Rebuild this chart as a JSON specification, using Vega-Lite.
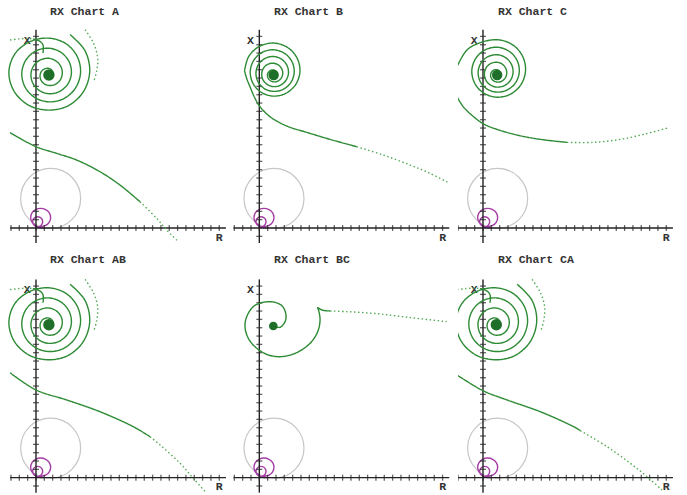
{
"$schema": "https://vega.github.io/schema/vega-lite/v6.json",
"padding": 0,
"background": "white",
"spacing": 0,
"config": {
  "view": {"stroke": null},
  "title": {"font": "Liberation Mono", "fontSize": 11.5, "fontWeight": "bold", "color": "#333333", "anchor": "start", "offset": -17, "baseline": "alphabetic"}
},
"datasets": {
  "ticks": [
    {"axis":"R","x":-3,"y":0},{"axis":"R","x":-2,"y":0},{"axis":"R","x":-1,"y":0},{"axis":"R","x":0,"y":0},{"axis":"R","x":1,"y":0},{"axis":"R","x":2,"y":0},{"axis":"R","x":3,"y":0},{"axis":"R","x":4,"y":0},{"axis":"R","x":5,"y":0},{"axis":"R","x":6,"y":0},{"axis":"R","x":7,"y":0},{"axis":"R","x":8,"y":0},{"axis":"R","x":9,"y":0},{"axis":"R","x":10,"y":0},{"axis":"R","x":11,"y":0},{"axis":"R","x":12,"y":0},{"axis":"R","x":13,"y":0},{"axis":"R","x":14,"y":0},{"axis":"R","x":15,"y":0},{"axis":"R","x":16,"y":0},{"axis":"R","x":17,"y":0},{"axis":"R","x":18,"y":0},{"axis":"R","x":19,"y":0},{"axis":"R","x":20,"y":0},{"axis":"R","x":21,"y":0},{"axis":"R","x":22,"y":0},
    {"axis":"X","x":0,"y":-1},{"axis":"X","x":0,"y":1},{"axis":"X","x":0,"y":2},{"axis":"X","x":0,"y":3},{"axis":"X","x":0,"y":4},{"axis":"X","x":0,"y":5},{"axis":"X","x":0,"y":6},{"axis":"X","x":0,"y":7},{"axis":"X","x":0,"y":8},{"axis":"X","x":0,"y":9},{"axis":"X","x":0,"y":10},{"axis":"X","x":0,"y":11},{"axis":"X","x":0,"y":12},{"axis":"X","x":0,"y":13},{"axis":"X","x":0,"y":14},{"axis":"X","x":0,"y":15},{"axis":"X","x":0,"y":16},{"axis":"X","x":0,"y":17},{"axis":"X","x":0,"y":18},{"axis":"X","x":0,"y":19},{"axis":"X","x":0,"y":20},{"axis":"X","x":0,"y":21},{"axis":"X","x":0,"y":22},{"axis":"X","x":0,"y":23}
  ],
  "axes": [{"x":-3.1,"y":0,"x2":22.8,"y2":0},{"x":0,"y":-1.8,"x2":0,"y2":23.8}],
  "labels": [{"t":"X","x":-1.05,"y":22.5},{"t":"R","x":22.0,"y":-1.15}],
  "ref": [{"x":1.76,"y":3.55}],
  "magenta": [
    {"i":0,"x":0.0,"y":0.02},{"i":1,"x":0.3,"y":0.08},{"i":2,"x":0.56,"y":0.16},{"i":3,"x":1.16,"y":0.31},{"i":4,"x":1.6,"y":0.71},{"i":5,"x":1.76,"y":1.26},{"i":6,"x":1.6,"y":1.81},{"i":7,"x":1.16,"y":2.21},{"i":8,"x":0.56,"y":2.36},{"i":9,"x":-0.04,"y":2.21},{"i":10,"x":-0.48,"y":1.81},{"i":11,"x":-0.64,"y":1.26},{"i":12,"x":-0.48,"y":0.71},{"i":13,"x":-0.04,"y":0.31},
    {"i":14,"x":0.2,"y":0.16},{"i":15,"x":0.5,"y":0.24},{"i":16,"x":0.72,"y":0.46},{"i":17,"x":0.8,"y":0.76},{"i":18,"x":0.72,"y":1.06},{"i":19,"x":0.5,"y":1.28},{"i":20,"x":0.2,"y":1.36},{"i":21,"x":-0.1,"y":1.28},{"i":22,"x":-0.32,"y":1.06},{"i":23,"x":-0.4,"y":0.76},{"i":24,"x":-0.32,"y":0.46},{"i":25,"x":-0.1,"y":0.24},{"i":26,"x":0.25,"y":0.08},{"i":27,"x":0.7,"y":0.02},{"i":28,"x":1.1,"y":0.0}
  ],
  "spiralA": [
    {"part":"spiral","sampling":"dense","i":0,"x":4.09,"y":23.22},{"part":"spiral","sampling":"dense","i":1,"x":5.87,"y":21.31},{"part":"spiral","sampling":"dense","i":2,"x":6.45,"y":18.8},{"part":"spiral","sampling":"dense","i":3,"x":5.71,"y":16.39},{"part":"spiral","sampling":"dense","i":4,"x":3.91,"y":14.7},{"part":"spiral","sampling":"dense","i":5,"x":1.55,"y":14.15},{"part":"spiral","sampling":"dense","i":6,"x":-0.9,"y":14.75},{"part":"spiral","sampling":"dense","i":7,"x":-2.65,"y":16.45},{"part":"spiral","sampling":"dense","i":8,"x":-3.25,"y":18.74},{"part":"spiral","sampling":"dense","i":9,"x":-2.5,"y":20.95},{"part":"spiral","sampling":"dense","i":10,"x":-0.65,"y":22.4},{"part":"spiral","sampling":"dense","i":11,"x":1.55,"y":22.79},{"part":"spiral","sampling":"dense","i":12,"x":3.54,"y":22.16},{"part":"spiral","sampling":"dense","i":13,"x":4.92,"y":20.65},{"part":"spiral","sampling":"dense","i":14,"x":5.35,"y":18.69},{"part":"spiral","sampling":"dense","i":15,"x":4.76,"y":16.83},{"part":"spiral","sampling":"dense","i":16,"x":3.36,"y":15.54},{"part":"spiral","sampling":"dense","i":17,"x":1.55,"y":15.14},{"part":"spiral","sampling":"dense","i":18,"x":-0.17,"y":15.68},{"part":"spiral","sampling":"dense","i":19,"x":-1.34,"y":16.97},{"part":"spiral","sampling":"dense","i":20,"x":-1.7,"y":18.63},{"part":"spiral","sampling":"dense","i":21,"x":-1.19,"y":20.2},{"part":"spiral","sampling":"dense","i":22,"x":0.02,"y":21.27},{"part":"spiral","sampling":"dense","i":23,"x":1.55,"y":21.58},{"part":"spiral","sampling":"dense","i":24,"x":2.99,"y":21.09},{"part":"spiral","sampling":"dense","i":25,"x":3.97,"y":19.98},{"part":"spiral","sampling":"dense","i":26,"x":4.25,"y":18.57},{"part":"spiral","sampling":"dense","i":27,"x":3.81,"y":17.26},{"part":"spiral","sampling":"dense","i":28,"x":2.81,"y":16.38},{"part":"spiral","sampling":"dense","i":29,"x":1.55,"y":16.12},{"part":"spiral","sampling":"dense","i":30,"x":0.38,"y":16.52},{"part":"spiral","sampling":"dense","i":31,"x":-0.39,"y":17.41},{"part":"spiral","sampling":"dense","i":32,"x":-0.6,"y":18.52},{"part":"spiral","sampling":"dense","i":33,"x":-0.23,"y":19.54},{"part":"spiral","sampling":"dense","i":34,"x":0.57,"y":20.2},{"part":"spiral","sampling":"dense","i":35,"x":1.55,"y":20.37},{"part":"spiral","sampling":"dense","i":36,"x":2.44,"y":20.02},{"part":"spiral","sampling":"dense","i":37,"x":3.02,"y":19.32},{"part":"spiral","sampling":"dense","i":38,"x":3.15,"y":18.46},{"part":"spiral","sampling":"dense","i":39,"x":2.86,"y":17.7},{"part":"spiral","sampling":"dense","i":40,"x":2.26,"y":17.21},{"part":"spiral","sampling":"dense","i":41,"x":1.55,"y":17.11},{"part":"spiral","sampling":"dense","i":42,"x":0.93,"y":17.35},{"part":"spiral","sampling":"dense","i":43,"x":0.56,"y":17.84},{"part":"spiral","sampling":"dense","i":44,"x":0.5,"y":18.4},{"part":"spiral","sampling":"dense","i":45,"x":0.72,"y":18.88},{"part":"spiral","sampling":"dense","i":46,"x":1.12,"y":19.14},{"part":"spiral","sampling":"dense","i":47,"x":1.55,"y":19.16},{"part":"spiral","sampling":"dense","i":48,"x":1.89,"y":18.96},{"part":"spiral","sampling":"dense","i":49,"x":2.06,"y":18.66},{"part":"spiral","sampling":"dense","i":50,"x":2.05,"y":18.35},
    {"part":"arc","sampling":"sparse","i":0,"x":5.9,"y":23.8},{"part":"arc","sampling":"sparse","i":1,"x":6.9,"y":22.2},{"part":"arc","sampling":"sparse","i":2,"x":7.4,"y":20.5},{"part":"arc","sampling":"sparse","i":3,"x":7.3,"y":18.9},{"part":"arc","sampling":"sparse","i":4,"x":6.9,"y":17.5},
    {"part":"topleft","sampling":"sparse","i":0,"x":-3.12,"y":22.57},{"part":"topleft","sampling":"sparse","i":1,"x":-2.0,"y":22.7},{"part":"topleft","sampling":"sparse","i":2,"x":-0.9,"y":22.75},{"part":"topleft","sampling":"sparse","i":3,"x":-0.36,"y":22.7},
    {"part":"hook","sampling":"dense","i":0,"x":-0.36,"y":22.7},{"part":"hook","sampling":"dense","i":1,"x":0.4,"y":22.45},{"part":"hook","sampling":"dense","i":2,"x":0.84,"y":21.97},{"part":"hook","sampling":"dense","i":3,"x":0.84,"y":21.0}
  ],
  "tailA": [
    {"part":"near","sampling":"dense","i":0,"x":-3.12,"y":11.44},{"part":"near","sampling":"dense","i":1,"x":0,"y":9.76},{"part":"near","sampling":"dense","i":2,"x":2.48,"y":8.96},{"part":"near","sampling":"dense","i":3,"x":4.88,"y":8.16},{"part":"near","sampling":"dense","i":4,"x":7.68,"y":6.76},{"part":"near","sampling":"dense","i":5,"x":10.08,"y":5.16},{"part":"near","sampling":"dense","i":6,"x":12.48,"y":3.16},
    {"part":"far","sampling":"sparse","i":0,"x":12.48,"y":3.16},{"part":"far","sampling":"sparse","i":1,"x":14.49,"y":1.16},{"part":"far","sampling":"sparse","i":2,"x":15.69,"y":-0.24},{"part":"far","sampling":"sparse","i":3,"x":17.08,"y":-1.64}
  ],
  "tailAB": [
    {"part":"near","sampling":"dense","i":0,"x":-3.12,"y":12.6},{"part":"near","sampling":"dense","i":1,"x":0,"y":10.53},{"part":"near","sampling":"dense","i":2,"x":3.68,"y":9.33},{"part":"near","sampling":"dense","i":3,"x":7.68,"y":7.92},{"part":"near","sampling":"dense","i":4,"x":11.68,"y":6.12},{"part":"near","sampling":"dense","i":5,"x":13.69,"y":4.92},
    {"part":"far","sampling":"sparse","i":0,"x":13.69,"y":4.92},{"part":"far","sampling":"sparse","i":1,"x":14.89,"y":3.93},{"part":"far","sampling":"sparse","i":2,"x":17.29,"y":1.73},{"part":"far","sampling":"sparse","i":3,"x":18.88,"y":-0.07},{"part":"far","sampling":"sparse","i":4,"x":20.49,"y":-1.87}
  ],
  "tailCA": [
    {"part":"near","sampling":"dense","i":0,"x":-3.12,"y":12.33},{"part":"near","sampling":"dense","i":1,"x":0,"y":10.44},{"part":"near","sampling":"dense","i":2,"x":2.88,"y":9.33},{"part":"near","sampling":"dense","i":3,"x":6.88,"y":7.92},{"part":"near","sampling":"dense","i":4,"x":10.89,"y":6.12},{"part":"near","sampling":"dense","i":5,"x":11.68,"y":5.65},
    {"part":"far","sampling":"sparse","i":0,"x":11.68,"y":5.65},{"part":"far","sampling":"sparse","i":1,"x":14.89,"y":3.72},{"part":"far","sampling":"sparse","i":2,"x":17.68,"y":1.73},{"part":"far","sampling":"sparse","i":3,"x":19.69,"y":0.12},{"part":"far","sampling":"sparse","i":4,"x":21.49,"y":-1.48}
  ],
  "B": [
    {"part":"tail","sampling":"dense","i":0,"x":-1.78,"y":18.9},{"part":"tail","sampling":"dense","i":1,"x":-1.52,"y":17.97},{"part":"tail","sampling":"dense","i":2,"x":-1.12,"y":16.96},{"part":"tail","sampling":"dense","i":3,"x":-0.52,"y":15.57},{"part":"tail","sampling":"dense","i":4,"x":0.08,"y":14.56},{"part":"tail","sampling":"dense","i":5,"x":1.28,"y":13.36},{"part":"tail","sampling":"dense","i":6,"x":3.29,"y":12.24},{"part":"tail","sampling":"dense","i":7,"x":5.69,"y":11.48},{"part":"tail","sampling":"dense","i":8,"x":8.49,"y":10.64},{"part":"tail","sampling":"dense","i":9,"x":11.69,"y":9.76},
    {"part":"far","sampling":"sparse","i":0,"x":11.69,"y":9.76},{"part":"far","sampling":"sparse","i":1,"x":14.89,"y":8.76},{"part":"far","sampling":"sparse","i":2,"x":18.09,"y":7.56},{"part":"far","sampling":"sparse","i":3,"x":20.49,"y":6.56},{"part":"far","sampling":"sparse","i":4,"x":22.69,"y":5.44},
    {"part":"spiral","sampling":"dense","i":0,"x":-1.78,"y":18.9},{"part":"spiral","sampling":"dense","i":1,"x":-1.26,"y":20.61},{"part":"spiral","sampling":"dense","i":2,"x":0.03,"y":21.81},{"part":"spiral","sampling":"dense","i":3,"x":1.72,"y":22.2},{"part":"spiral","sampling":"dense","i":4,"x":3.36,"y":21.69},{"part":"spiral","sampling":"dense","i":5,"x":4.5,"y":20.46},{"part":"spiral","sampling":"dense","i":6,"x":4.88,"y":18.84},{"part":"spiral","sampling":"dense","i":7,"x":4.4,"y":17.28},{"part":"spiral","sampling":"dense","i":8,"x":3.24,"y":16.19},{"part":"spiral","sampling":"dense","i":9,"x":1.72,"y":15.83},{"part":"spiral","sampling":"dense","i":10,"x":0.26,"y":16.27},{"part":"spiral","sampling":"dense","i":11,"x":-0.76,"y":17.36},{"part":"spiral","sampling":"dense","i":12,"x":-1.09,"y":18.78},{"part":"spiral","sampling":"dense","i":13,"x":-0.66,"y":20.15},{"part":"spiral","sampling":"dense","i":14,"x":0.37,"y":21.1},{"part":"spiral","sampling":"dense","i":15,"x":1.72,"y":21.39},{"part":"spiral","sampling":"dense","i":16,"x":3.01,"y":20.98},{"part":"spiral","sampling":"dense","i":17,"x":3.91,"y":19.99},{"part":"spiral","sampling":"dense","i":18,"x":4.19,"y":18.72},{"part":"spiral","sampling":"dense","i":19,"x":3.81,"y":17.51},{"part":"spiral","sampling":"dense","i":20,"x":2.9,"y":16.66},{"part":"spiral","sampling":"dense","i":21,"x":1.72,"y":16.4},{"part":"spiral","sampling":"dense","i":22,"x":0.6,"y":16.74},{"part":"spiral","sampling":"dense","i":23,"x":-0.17,"y":17.58},{"part":"spiral","sampling":"dense","i":24,"x":-0.4,"y":18.66},{"part":"spiral","sampling":"dense","i":25,"x":-0.07,"y":19.68},{"part":"spiral","sampling":"dense","i":26,"x":0.72,"y":20.38},{"part":"spiral","sampling":"dense","i":27,"x":1.72,"y":20.59},{"part":"spiral","sampling":"dense","i":28,"x":2.67,"y":20.27},{"part":"spiral","sampling":"dense","i":29,"x":3.31,"y":19.54},{"part":"spiral","sampling":"dense","i":30,"x":3.5,"y":18.61},{"part":"spiral","sampling":"dense","i":31,"x":3.21,"y":17.74},{"part":"spiral","sampling":"dense","i":32,"x":2.55,"y":17.15},{"part":"spiral","sampling":"dense","i":33,"x":1.72,"y":16.97},{"part":"spiral","sampling":"dense","i":34,"x":0.95,"y":17.23},{"part":"spiral","sampling":"dense","i":35,"x":0.43,"y":17.81},{"part":"spiral","sampling":"dense","i":36,"x":0.29,"y":18.55},{"part":"spiral","sampling":"dense","i":37,"x":0.53,"y":19.23},{"part":"spiral","sampling":"dense","i":38,"x":1.06,"y":19.67},{"part":"spiral","sampling":"dense","i":39,"x":1.72,"y":19.78},{"part":"spiral","sampling":"dense","i":40,"x":2.32,"y":19.55},{"part":"spiral","sampling":"dense","i":41,"x":2.71,"y":19.07},{"part":"spiral","sampling":"dense","i":42,"x":2.81,"y":18.49},{"part":"spiral","sampling":"dense","i":43,"x":2.61,"y":17.96},{"part":"spiral","sampling":"dense","i":44,"x":2.21,"y":17.63},{"part":"spiral","sampling":"dense","i":45,"x":1.72,"y":17.54},{"part":"spiral","sampling":"dense","i":46,"x":1.29,"y":17.71},{"part":"spiral","sampling":"dense","i":47,"x":1.03,"y":18.04},{"part":"spiral","sampling":"dense","i":48,"x":0.98,"y":18.43},{"part":"spiral","sampling":"dense","i":49,"x":1.13,"y":18.76},{"part":"spiral","sampling":"dense","i":50,"x":1.41,"y":18.96},{"part":"spiral","sampling":"dense","i":51,"x":1.72,"y":18.97},{"part":"spiral","sampling":"dense","i":52,"x":1.98,"y":18.84},{"part":"spiral","sampling":"dense","i":53,"x":2.12,"y":18.61},{"part":"spiral","sampling":"dense","i":54,"x":2.12,"y":18.37}
  ],
  "C": [
    {"part":"spiral","sampling":"dense","i":0,"x":-3.12,"y":19.36},{"part":"spiral","sampling":"dense","i":1,"x":-1.92,"y":21.37},{"part":"spiral","sampling":"dense","i":2,"x":-0.32,"y":22.25},{"part":"spiral","sampling":"dense","i":3,"x":1.7,"y":22.6},{"part":"spiral","sampling":"dense","i":4,"x":3.47,"y":22.05},{"part":"spiral","sampling":"dense","i":5,"x":4.71,"y":20.71},{"part":"spiral","sampling":"dense","i":6,"x":5.11,"y":18.96},{"part":"spiral","sampling":"dense","i":7,"x":4.6,"y":17.28},{"part":"spiral","sampling":"dense","i":8,"x":3.34,"y":16.09},{"part":"spiral","sampling":"dense","i":9,"x":1.7,"y":15.7},{"part":"spiral","sampling":"dense","i":10,"x":0.12,"y":16.18},{"part":"spiral","sampling":"dense","i":11,"x":-0.98,"y":17.35},{"part":"spiral","sampling":"dense","i":12,"x":-1.34,"y":18.89},{"part":"spiral","sampling":"dense","i":13,"x":-0.87,"y":20.36},{"part":"spiral","sampling":"dense","i":14,"x":0.25,"y":21.38},{"part":"spiral","sampling":"dense","i":15,"x":1.7,"y":21.7},{"part":"spiral","sampling":"dense","i":16,"x":3.09,"y":21.25},{"part":"spiral","sampling":"dense","i":17,"x":4.06,"y":20.19},{"part":"spiral","sampling":"dense","i":18,"x":4.36,"y":18.81},{"part":"spiral","sampling":"dense","i":19,"x":3.95,"y":17.5},{"part":"spiral","sampling":"dense","i":20,"x":2.97,"y":16.6},{"part":"spiral","sampling":"dense","i":21,"x":1.7,"y":16.31},{"part":"spiral","sampling":"dense","i":22,"x":0.5,"y":16.68},{"part":"spiral","sampling":"dense","i":23,"x":-0.33,"y":17.58},{"part":"spiral","sampling":"dense","i":24,"x":-0.58,"y":18.74},{"part":"spiral","sampling":"dense","i":25,"x":-0.22,"y":19.84},{"part":"spiral","sampling":"dense","i":26,"x":0.62,"y":20.58},{"part":"spiral","sampling":"dense","i":27,"x":1.7,"y":20.8},{"part":"spiral","sampling":"dense","i":28,"x":2.72,"y":20.45},{"part":"spiral","sampling":"dense","i":29,"x":3.41,"y":19.66},{"part":"spiral","sampling":"dense","i":30,"x":3.61,"y":18.67},{"part":"spiral","sampling":"dense","i":31,"x":3.3,"y":17.73},{"part":"spiral","sampling":"dense","i":32,"x":2.59,"y":17.1},{"part":"spiral","sampling":"dense","i":33,"x":1.7,"y":16.91},{"part":"spiral","sampling":"dense","i":34,"x":0.87,"y":17.18},{"part":"spiral","sampling":"dense","i":35,"x":0.32,"y":17.81},{"part":"spiral","sampling":"dense","i":36,"x":0.17,"y":18.59},{"part":"spiral","sampling":"dense","i":37,"x":0.43,"y":19.31},{"part":"spiral","sampling":"dense","i":38,"x":1.0,"y":19.78},{"part":"spiral","sampling":"dense","i":39,"x":1.7,"y":19.9},{"part":"spiral","sampling":"dense","i":40,"x":2.34,"y":19.65},{"part":"spiral","sampling":"dense","i":41,"x":2.75,"y":19.14},{"part":"spiral","sampling":"dense","i":42,"x":2.85,"y":18.52},{"part":"spiral","sampling":"dense","i":43,"x":2.64,"y":17.96},{"part":"spiral","sampling":"dense","i":44,"x":2.21,"y":17.6},{"part":"spiral","sampling":"dense","i":45,"x":1.7,"y":17.52},{"part":"spiral","sampling":"dense","i":46,"x":1.25,"y":17.69},{"part":"spiral","sampling":"dense","i":47,"x":0.97,"y":18.04},{"part":"spiral","sampling":"dense","i":48,"x":0.92,"y":18.44},{"part":"spiral","sampling":"dense","i":49,"x":1.08,"y":18.79},{"part":"spiral","sampling":"dense","i":50,"x":1.37,"y":18.98},{"part":"spiral","sampling":"dense","i":51,"x":1.7,"y":19.0},{"part":"spiral","sampling":"dense","i":52,"x":1.96,"y":18.85},{"part":"spiral","sampling":"dense","i":53,"x":2.1,"y":18.61},{"part":"spiral","sampling":"dense","i":54,"x":2.1,"y":18.37},
    {"part":"tail","sampling":"dense","i":0,"x":-3.12,"y":15.76},{"part":"tail","sampling":"dense","i":1,"x":-2.32,"y":14.49},{"part":"tail","sampling":"dense","i":2,"x":-1.12,"y":13.36},{"part":"tail","sampling":"dense","i":3,"x":0.08,"y":12.48},{"part":"tail","sampling":"dense","i":4,"x":1.68,"y":11.84},{"part":"tail","sampling":"dense","i":5,"x":4.08,"y":11.16},{"part":"tail","sampling":"dense","i":6,"x":6.88,"y":10.64},{"part":"tail","sampling":"dense","i":7,"x":10.08,"y":10.28},
    {"part":"far","sampling":"sparse","i":0,"x":10.08,"y":10.28},{"part":"far","sampling":"sparse","i":1,"x":13.29,"y":10.28},{"part":"far","sampling":"sparse","i":2,"x":16.48,"y":10.64},{"part":"far","sampling":"sparse","i":3,"x":19.29,"y":11.24},{"part":"far","sampling":"sparse","i":4,"x":22.29,"y":12.04}
  ],
  "BC": [
    {"part":"spiral","sampling":"dense","i":0,"x":1.68,"y":18.21},{"part":"spiral","sampling":"dense","i":1,"x":2.48,"y":18.05},{"part":"spiral","sampling":"dense","i":2,"x":3.09,"y":18.73},{"part":"spiral","sampling":"dense","i":3,"x":3.2,"y":19.53},{"part":"spiral","sampling":"dense","i":4,"x":2.81,"y":20.53},{"part":"spiral","sampling":"dense","i":5,"x":1.88,"y":21.05},{"part":"spiral","sampling":"dense","i":6,"x":0.48,"y":21.05},{"part":"spiral","sampling":"dense","i":7,"x":-0.72,"y":20.53},{"part":"spiral","sampling":"dense","i":8,"x":-1.51,"y":19.33},{"part":"spiral","sampling":"dense","i":9,"x":-1.72,"y":18.13},{"part":"spiral","sampling":"dense","i":10,"x":-1.32,"y":16.73},{"part":"spiral","sampling":"dense","i":11,"x":-0.31,"y":15.53},{"part":"spiral","sampling":"dense","i":12,"x":1.08,"y":14.73},{"part":"spiral","sampling":"dense","i":13,"x":2.69,"y":14.53},{"part":"spiral","sampling":"dense","i":14,"x":4.49,"y":15.01},{"part":"spiral","sampling":"dense","i":15,"x":6.09,"y":16.13},{"part":"spiral","sampling":"dense","i":16,"x":7.01,"y":17.53},{"part":"spiral","sampling":"dense","i":17,"x":7.29,"y":18.93},{"part":"spiral","sampling":"dense","i":18,"x":7.13,"y":20.05},{"part":"spiral","sampling":"dense","i":19,"x":7.01,"y":20.41},{"part":"spiral","sampling":"dense","i":20,"x":7.49,"y":20.13},{"part":"spiral","sampling":"dense","i":21,"x":8.49,"y":20.01},
    {"part":"far","sampling":"sparse","i":0,"x":8.49,"y":20.01},{"part":"far","sampling":"sparse","i":1,"x":10.49,"y":19.93},{"part":"far","sampling":"sparse","i":2,"x":12.48,"y":19.81},{"part":"far","sampling":"sparse","i":3,"x":14.49,"y":19.65},{"part":"far","sampling":"sparse","i":4,"x":16.49,"y":19.41},{"part":"far","sampling":"sparse","i":5,"x":18.9,"y":19.13},{"part":"far","sampling":"sparse","i":6,"x":22.5,"y":18.73}
  ],
  "blobs": [
    {"chart":"A","x":1.55,"y":18.37},{"chart":"B","x":1.72,"y":18.37},{"chart":"C","x":1.7,"y":18.37},{"chart":"AB","x":1.55,"y":18.35},{"chart":"BC","x":1.68,"y":18.21},{"chart":"CA","x":1.6,"y":18.35}
  ]
},
"vconcat": [
{"hconcat": [
 {"width": 229, "height": 248, "title": {"text": "RX Chart A", "dx": 50},
  "encoding": {"x": {"field":"x","type":"quantitative","scale":{"domain":[-4.32,23.17],"nice":false,"zero":false},"axis":null},
               "y": {"field":"y","type":"quantitative","scale":{"domain":[-2.4,27.37],"nice":false,"zero":false},"axis":null}},
  "layer": [
   {"data":{"name":"ref"},"mark":{"type":"point","shape":"circle","size":3600,"filled":false,"color":"#c6c6c6","strokeWidth":1.2,"opacity":1}},
   {"data":{"name":"magenta"},"mark":{"type":"line","color":"#a53ca5","strokeWidth":1.4,"interpolate":"catmull-rom"},"encoding":{"order":{"field":"i","type":"quantitative"}}},
   {"data":{"name":"axes"},"mark":{"type":"rule","color":"#222222","strokeWidth":1.4},"encoding":{"x2":{"field":"x2"},"y2":{"field":"y2"}}},
   {"data":{"name":"ticks"},"transform":[{"filter":"datum.axis == 'R'"}],"mark":{"type":"tick","orient":"vertical","size":6,"thickness":1.3,"color":"#222222"}},
   {"data":{"name":"ticks"},"transform":[{"filter":"datum.axis == 'X'"}],"mark":{"type":"tick","orient":"horizontal","size":6,"thickness":1.3,"color":"#222222"}},
   {"data":{"name":"labels"},"mark":{"type":"text","font":"Liberation Mono","fontWeight":"bold","fontSize":11.5,"color":"#333333"},"encoding":{"text":{"field":"t","type":"nominal"}}},
   {"data":{"name":"tailA"},"mark":{"type":"line","strokeWidth":1.4,"interpolate":"catmull-rom","clip":true},"encoding":{"detail":{"field":"part","type":"nominal"},"order":{"field":"i","type":"quantitative"},"color":{"field":"sampling","type":"nominal","scale":{"domain":["dense","sparse"],"range":["#2e8b35","#55aa55"]},"legend":null},"strokeDash":{"field":"sampling","type":"nominal","scale":{"domain":["dense","sparse"],"range":[[1,0],[1.5,2.5]]},"legend":null}}},
   {"data":{"name":"spiralA"},"mark":{"type":"line","strokeWidth":1.4,"interpolate":"catmull-rom","clip":true},"encoding":{"detail":{"field":"part","type":"nominal"},"order":{"field":"i","type":"quantitative"},"color":{"field":"sampling","type":"nominal","scale":{"domain":["dense","sparse"],"range":["#2e8b35","#55aa55"]},"legend":null},"strokeDash":{"field":"sampling","type":"nominal","scale":{"domain":["dense","sparse"],"range":[[1,0],[1.5,2.5]]},"legend":null}}},
   {"data":{"name":"blobs"},"transform":[{"filter":"datum.chart == 'A'"}],"mark":{"type":"point","shape":"circle","filled":true,"size":130,"color":"#1f6f2a","opacity":1}},
   {"data":{"values":[{}]},"mark":{"type":"rule","color":"#555555","strokeWidth":1.5},"encoding":{"x":{"datum":23.17,"axis":null},"y":{"datum":-2.4,"axis":null},"y2":{"datum":27.37}}},
   {"data":{"values":[{}]},"mark":{"type":"rule","color":"#555555","strokeWidth":1.5},"encoding":{"x":{"datum":-4.32,"axis":null},"x2":{"datum":23.17},"y":{"datum":-2.4,"axis":null}}}
  ]},
 {"width": 229, "height": 248, "title": {"text": "RX Chart B", "dx": 45},
  "encoding": {"x": {"field":"x","type":"quantitative","scale":{"domain":[-3.64,23.85],"nice":false,"zero":false},"axis":null},
               "y": {"field":"y","type":"quantitative","scale":{"domain":[-2.4,27.37],"nice":false,"zero":false},"axis":null}},
  "layer": [
   {"data":{"name":"ref"},"mark":{"type":"point","shape":"circle","size":3600,"filled":false,"color":"#c6c6c6","strokeWidth":1.2,"opacity":1}},
   {"data":{"name":"magenta"},"mark":{"type":"line","color":"#a53ca5","strokeWidth":1.4,"interpolate":"catmull-rom"},"encoding":{"order":{"field":"i","type":"quantitative"}}},
   {"data":{"name":"axes"},"mark":{"type":"rule","color":"#222222","strokeWidth":1.4},"encoding":{"x2":{"field":"x2"},"y2":{"field":"y2"}}},
   {"data":{"name":"ticks"},"transform":[{"filter":"datum.axis == 'R'"}],"mark":{"type":"tick","orient":"vertical","size":6,"thickness":1.3,"color":"#222222"}},
   {"data":{"name":"ticks"},"transform":[{"filter":"datum.axis == 'X'"}],"mark":{"type":"tick","orient":"horizontal","size":6,"thickness":1.3,"color":"#222222"}},
   {"data":{"name":"labels"},"mark":{"type":"text","font":"Liberation Mono","fontWeight":"bold","fontSize":11.5,"color":"#333333"},"encoding":{"text":{"field":"t","type":"nominal"}}},
   {"data":{"name":"B"},"mark":{"type":"line","strokeWidth":1.4,"interpolate":"catmull-rom","clip":true},"encoding":{"detail":{"field":"part","type":"nominal"},"order":{"field":"i","type":"quantitative"},"color":{"field":"sampling","type":"nominal","scale":{"domain":["dense","sparse"],"range":["#2e8b35","#55aa55"]},"legend":null},"strokeDash":{"field":"sampling","type":"nominal","scale":{"domain":["dense","sparse"],"range":[[1,0],[1.5,2.5]]},"legend":null}}},
   {"data":{"name":"blobs"},"transform":[{"filter":"datum.chart == 'B'"}],"mark":{"type":"point","shape":"circle","filled":true,"size":110,"color":"#1f6f2a","opacity":1}},
   {"data":{"values":[{}]},"mark":{"type":"rule","color":"#555555","strokeWidth":1.5},"encoding":{"x":{"datum":23.3,"axis":null},"y":{"datum":-2.4,"axis":null},"y2":{"datum":27.37}}},
   {"data":{"values":[{}]},"mark":{"type":"rule","color":"#555555","strokeWidth":1.5},"encoding":{"x":{"datum":-3.64,"axis":null},"x2":{"datum":23.85},"y":{"datum":-2.4,"axis":null}}}
  ]},
 {"width": 229, "height": 248, "title": {"text": "RX Chart C", "dx": 40},
  "encoding": {"x": {"field":"x","type":"quantitative","scale":{"domain":[-3.0,24.49],"nice":false,"zero":false},"axis":null},
               "y": {"field":"y","type":"quantitative","scale":{"domain":[-2.4,27.37],"nice":false,"zero":false},"axis":null}},
  "layer": [
   {"data":{"name":"ref"},"mark":{"type":"point","shape":"circle","size":3600,"filled":false,"color":"#c6c6c6","strokeWidth":1.2,"opacity":1}},
   {"data":{"name":"magenta"},"mark":{"type":"line","color":"#a53ca5","strokeWidth":1.4,"interpolate":"catmull-rom"},"encoding":{"order":{"field":"i","type":"quantitative"}}},
   {"data":{"name":"axes"},"mark":{"type":"rule","color":"#222222","strokeWidth":1.4,"clip":true},"encoding":{"x2":{"field":"x2"},"y2":{"field":"y2"}}},
   {"data":{"name":"ticks"},"transform":[{"filter":"datum.axis == 'R'"}],"mark":{"type":"tick","orient":"vertical","size":6,"thickness":1.3,"color":"#222222","clip":true}},
   {"data":{"name":"ticks"},"transform":[{"filter":"datum.axis == 'X'"}],"mark":{"type":"tick","orient":"horizontal","size":6,"thickness":1.3,"color":"#222222"}},
   {"data":{"name":"labels"},"mark":{"type":"text","font":"Liberation Mono","fontWeight":"bold","fontSize":11.5,"color":"#333333"},"encoding":{"text":{"field":"t","type":"nominal"}}},
   {"data":{"name":"C"},"mark":{"type":"line","strokeWidth":1.4,"interpolate":"catmull-rom","clip":true},"encoding":{"detail":{"field":"part","type":"nominal"},"order":{"field":"i","type":"quantitative"},"color":{"field":"sampling","type":"nominal","scale":{"domain":["dense","sparse"],"range":["#2e8b35","#55aa55"]},"legend":null},"strokeDash":{"field":"sampling","type":"nominal","scale":{"domain":["dense","sparse"],"range":[[1,0],[1.5,2.5]]},"legend":null}}},
   {"data":{"name":"blobs"},"transform":[{"filter":"datum.chart == 'C'"}],"mark":{"type":"point","shape":"circle","filled":true,"size":110,"color":"#1f6f2a","opacity":1}},
   {"data":{"values":[{}]},"mark":{"type":"rule","color":"#555555","strokeWidth":1.5},"encoding":{"x":{"datum":-3.0,"axis":null},"x2":{"datum":24.49},"y":{"datum":-2.4,"axis":null}}}
  ]}
], "spacing": 0, "bounds": "flush"},
{"hconcat": [
 {"width": 229, "height": 247, "title": {"text": "RX Chart AB", "dx": 50},
  "encoding": {"x": {"field":"x","type":"quantitative","scale":{"domain":[-4.32,23.17],"nice":false,"zero":false},"axis":null},
               "y": {"field":"y","type":"quantitative","scale":{"domain":[-2.08,27.57],"nice":false,"zero":false},"axis":null}},
  "layer": [
   {"data":{"name":"ref"},"mark":{"type":"point","shape":"circle","size":3600,"filled":false,"color":"#c6c6c6","strokeWidth":1.2,"opacity":1}},
   {"data":{"name":"magenta"},"mark":{"type":"line","color":"#a53ca5","strokeWidth":1.4,"interpolate":"catmull-rom"},"encoding":{"order":{"field":"i","type":"quantitative"}}},
   {"data":{"name":"axes"},"mark":{"type":"rule","color":"#222222","strokeWidth":1.4},"encoding":{"x2":{"field":"x2"},"y2":{"field":"y2"}}},
   {"data":{"name":"ticks"},"transform":[{"filter":"datum.axis == 'R'"}],"mark":{"type":"tick","orient":"vertical","size":6,"thickness":1.3,"color":"#222222"}},
   {"data":{"name":"ticks"},"transform":[{"filter":"datum.axis == 'X'"}],"mark":{"type":"tick","orient":"horizontal","size":6,"thickness":1.3,"color":"#222222"}},
   {"data":{"name":"labels"},"mark":{"type":"text","font":"Liberation Mono","fontWeight":"bold","fontSize":11.5,"color":"#333333"},"encoding":{"text":{"field":"t","type":"nominal"}}},
   {"data":{"name":"tailAB"},"mark":{"type":"line","strokeWidth":1.4,"interpolate":"catmull-rom","clip":true},"encoding":{"detail":{"field":"part","type":"nominal"},"order":{"field":"i","type":"quantitative"},"color":{"field":"sampling","type":"nominal","scale":{"domain":["dense","sparse"],"range":["#2e8b35","#55aa55"]},"legend":null},"strokeDash":{"field":"sampling","type":"nominal","scale":{"domain":["dense","sparse"],"range":[[1,0],[1.5,2.5]]},"legend":null}}},
   {"data":{"name":"spiralA"},"mark":{"type":"line","strokeWidth":1.4,"interpolate":"catmull-rom","clip":true},"encoding":{"detail":{"field":"part","type":"nominal"},"order":{"field":"i","type":"quantitative"},"color":{"field":"sampling","type":"nominal","scale":{"domain":["dense","sparse"],"range":["#2e8b35","#55aa55"]},"legend":null},"strokeDash":{"field":"sampling","type":"nominal","scale":{"domain":["dense","sparse"],"range":[[1,0],[1.5,2.5]]},"legend":null}}},
   {"data":{"name":"blobs"},"transform":[{"filter":"datum.chart == 'AB'"}],"mark":{"type":"point","shape":"circle","filled":true,"size":130,"color":"#1f6f2a","opacity":1}},
   {"data":{"values":[{}]},"mark":{"type":"rule","color":"#555555","strokeWidth":1.5},"encoding":{"x":{"datum":23.17,"axis":null},"y":{"datum":-2.08,"axis":null},"y2":{"datum":27.57}}}
  ]},
 {"width": 229, "height": 247, "title": {"text": "RX Chart BC", "dx": 45},
  "encoding": {"x": {"field":"x","type":"quantitative","scale":{"domain":[-3.64,23.85],"nice":false,"zero":false},"axis":null},
               "y": {"field":"y","type":"quantitative","scale":{"domain":[-2.08,27.57],"nice":false,"zero":false},"axis":null}},
  "layer": [
   {"data":{"name":"ref"},"mark":{"type":"point","shape":"circle","size":3600,"filled":false,"color":"#c6c6c6","strokeWidth":1.2,"opacity":1}},
   {"data":{"name":"magenta"},"mark":{"type":"line","color":"#a53ca5","strokeWidth":1.4,"interpolate":"catmull-rom"},"encoding":{"order":{"field":"i","type":"quantitative"}}},
   {"data":{"name":"axes"},"mark":{"type":"rule","color":"#222222","strokeWidth":1.4},"encoding":{"x2":{"field":"x2"},"y2":{"field":"y2"}}},
   {"data":{"name":"ticks"},"transform":[{"filter":"datum.axis == 'R'"}],"mark":{"type":"tick","orient":"vertical","size":6,"thickness":1.3,"color":"#222222"}},
   {"data":{"name":"ticks"},"transform":[{"filter":"datum.axis == 'X'"}],"mark":{"type":"tick","orient":"horizontal","size":6,"thickness":1.3,"color":"#222222"}},
   {"data":{"name":"labels"},"mark":{"type":"text","font":"Liberation Mono","fontWeight":"bold","fontSize":11.5,"color":"#333333"},"encoding":{"text":{"field":"t","type":"nominal"}}},
   {"data":{"name":"BC"},"mark":{"type":"line","strokeWidth":1.4,"interpolate":"catmull-rom","clip":true},"encoding":{"detail":{"field":"part","type":"nominal"},"order":{"field":"i","type":"quantitative"},"color":{"field":"sampling","type":"nominal","scale":{"domain":["dense","sparse"],"range":["#2e8b35","#55aa55"]},"legend":null},"strokeDash":{"field":"sampling","type":"nominal","scale":{"domain":["dense","sparse"],"range":[[1,0],[1.5,2.5]]},"legend":null}}},
   {"data":{"name":"blobs"},"transform":[{"filter":"datum.chart == 'BC'"}],"mark":{"type":"point","shape":"circle","filled":true,"size":75,"color":"#1f6f2a","opacity":1}},
   {"data":{"values":[{}]},"mark":{"type":"rule","color":"#555555","strokeWidth":1.5},"encoding":{"x":{"datum":23.3,"axis":null},"y":{"datum":-2.08,"axis":null},"y2":{"datum":27.57}}}
  ]},
 {"width": 229, "height": 247, "title": {"text": "RX Chart CA", "dx": 40},
  "encoding": {"x": {"field":"x","type":"quantitative","scale":{"domain":[-3.0,24.49],"nice":false,"zero":false},"axis":null},
               "y": {"field":"y","type":"quantitative","scale":{"domain":[-2.08,27.57],"nice":false,"zero":false},"axis":null}},
  "layer": [
   {"data":{"name":"ref"},"mark":{"type":"point","shape":"circle","size":3600,"filled":false,"color":"#c6c6c6","strokeWidth":1.2,"opacity":1}},
   {"data":{"name":"magenta"},"mark":{"type":"line","color":"#a53ca5","strokeWidth":1.4,"interpolate":"catmull-rom"},"encoding":{"order":{"field":"i","type":"quantitative"}}},
   {"data":{"name":"axes"},"mark":{"type":"rule","color":"#222222","strokeWidth":1.4,"clip":true},"encoding":{"x2":{"field":"x2"},"y2":{"field":"y2"}}},
   {"data":{"name":"ticks"},"transform":[{"filter":"datum.axis == 'R'"}],"mark":{"type":"tick","orient":"vertical","size":6,"thickness":1.3,"color":"#222222","clip":true}},
   {"data":{"name":"ticks"},"transform":[{"filter":"datum.axis == 'X'"}],"mark":{"type":"tick","orient":"horizontal","size":6,"thickness":1.3,"color":"#222222"}},
   {"data":{"name":"labels"},"mark":{"type":"text","font":"Liberation Mono","fontWeight":"bold","fontSize":11.5,"color":"#333333"},"encoding":{"text":{"field":"t","type":"nominal"}}},
   {"data":{"name":"tailCA"},"mark":{"type":"line","strokeWidth":1.4,"interpolate":"catmull-rom","clip":true},"encoding":{"detail":{"field":"part","type":"nominal"},"order":{"field":"i","type":"quantitative"},"color":{"field":"sampling","type":"nominal","scale":{"domain":["dense","sparse"],"range":["#2e8b35","#55aa55"]},"legend":null},"strokeDash":{"field":"sampling","type":"nominal","scale":{"domain":["dense","sparse"],"range":[[1,0],[1.5,2.5]]},"legend":null}}},
   {"data":{"name":"spiralA"},"mark":{"type":"line","strokeWidth":1.4,"interpolate":"catmull-rom","clip":true},"encoding":{"detail":{"field":"part","type":"nominal"},"order":{"field":"i","type":"quantitative"},"color":{"field":"sampling","type":"nominal","scale":{"domain":["dense","sparse"],"range":["#2e8b35","#55aa55"]},"legend":null},"strokeDash":{"field":"sampling","type":"nominal","scale":{"domain":["dense","sparse"],"range":[[1,0],[1.5,2.5]]},"legend":null}}},
   {"data":{"name":"blobs"},"transform":[{"filter":"datum.chart == 'CA'"}],"mark":{"type":"point","shape":"circle","filled":true,"size":130,"color":"#1f6f2a","opacity":1}}
  ]}
], "spacing": 0, "bounds": "flush"}
]
}
